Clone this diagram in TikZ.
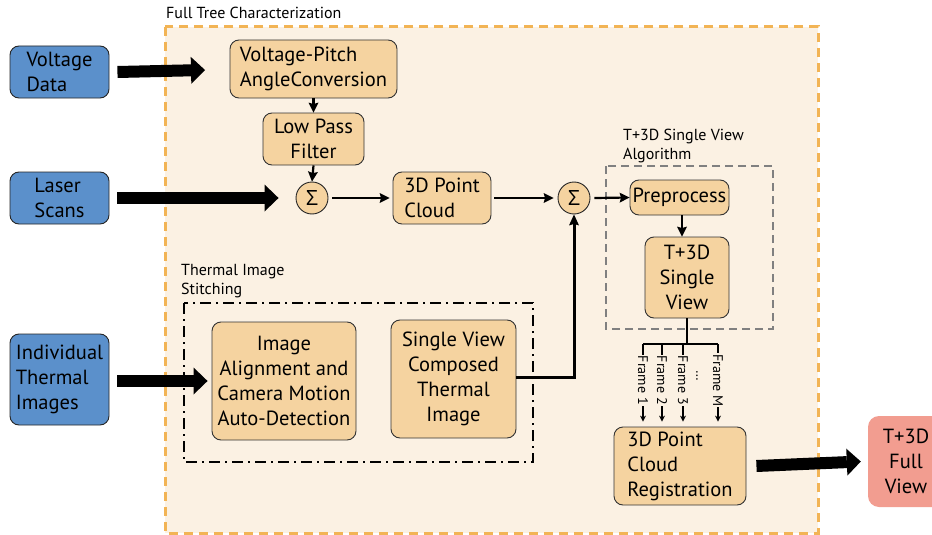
\documentclass[tikz,border=0pt]{standalone}
\usepackage{fontspec}
\setmainfont{PT Sans}
\newfontfamily\sigmafont{Open Sans}
\usetikzlibrary{arrows.meta,calc}
\definecolor{bgfill}{HTML}{FBF1E3}
\definecolor{boxfill}{HTML}{F5D3A0}
\definecolor{inblue}{HTML}{5B90CB}
\definecolor{outpink}{HTML}{F29D90}
\definecolor{dashorange}{HTML}{F2B455}
\tikzset{
  proc/.style={draw=black!80, line width=0.9pt, fill=boxfill, rounded corners=9pt,
    inner sep=0pt, font=\fontsize{20.5}{25}\selectfont, align=left},
  inbox/.style={draw=black!85, line width=0.9pt, fill=inblue, rounded corners=9pt,
    inner sep=0pt, font=\fontsize{20.5}{25}\selectfont, align=left,
    minimum width=99pt},
  sumnode/.style={circle, draw=black!85, line width=0.9pt, fill=boxfill,
    minimum size=32pt, inner sep=0pt, font=\sigmafont\fontsize{21}{22}\selectfont},
  bigarrow/.style={line width=12pt, -{Triangle[length=14pt,width=27pt,line width=0pt]}},
  thinarrow/.style={line width=2.2pt, -{Stealth[length=10pt,width=10pt,inset=1.5pt,line width=0pt]}},
  framearrow/.style={line width=1.1pt, -{Stealth[length=6pt,width=6pt,line width=0pt]}},
  smalllabel/.style={font=\fontsize{16}{19}\selectfont, align=left, inner sep=0pt, anchor=west},
  framelabel/.style={font=\fontsize{14}{16}\selectfont, rotate=-90, fill=bgfill, inner sep=1pt}
}
\begin{document}
\begin{tikzpicture}[x=1pt,y=-1pt]
\useasboundingbox (0,0) rectangle (932,535);
% outer container
\draw[dashorange, line width=3pt, dash pattern=on 9pt off 6pt, fill=bgfill] (165,27) rectangle (818,533);
\node[smalllabel] (title) at (166,13) {Full Tree Characterization};
% gray dashed group
\draw[black!50, line width=1.2pt, dash pattern=on 8pt off 5pt] (606,166) rectangle (773,329);
\node[smalllabel] (alglabel) at (623,146) {T+3D Single View\\Algorithm};
% dash-dot group
\draw[black, line width=1.8pt, dash pattern=on 11pt off 5pt on 2pt off 5pt] (184,303) rectangle (533,462);
\node[smalllabel] (stlabel) at (181,281) {Thermal Image\\Stitching};

% input boxes
\node[inbox, minimum height=52pt] (vd) at (59.5,72) {Voltage\\Data};
\node[inbox, minimum height=52pt] (ls) at (59.5,198) {Laser\\Scans};
\node[inbox, minimum height=91pt] (it) at (59.5,379.5) {Individual\\Thermal\\Images};

% processing boxes
\node[proc, minimum width=167pt, minimum height=58pt] (vpa) at (313.5,69) {Voltage-Pitch\\AngleConversion};
\node[proc, minimum width=101pt, minimum height=52pt, align=center] (lpf) at (313.5,139) {Low Pass\\Filter};
\node[sumnode] (s1) at (312,198) {Σ};
\node[proc, minimum width=98pt, minimum height=52pt] (pc) at (442,198) {3D Point\\Cloud};
\node[sumnode] (s2) at (574,198) {Σ};
\node[proc, minimum width=99pt, minimum height=35pt] (pre) at (679.5,197.5) {Preprocess};
\node[proc, minimum width=84pt, minimum height=81pt, align=center] (tsv) at (687,277.5) {T+3D\\Single\\View};
\node[proc, minimum width=132pt, minimum height=78pt] (reg) at (680,466) {3D Point\\Cloud\\Registration};
\node[proc, minimum width=144pt, minimum height=118pt, align=center] (ia) at (284,381) {Image\\Alignment and\\Camera Motion\\Auto-Detection};
\node[proc, minimum width=125pt, minimum height=118pt, align=center] (svc) at (453.5,379) {Single View\\Composed\\Thermal\\Image};
\node[fill=outpink, rounded corners=11pt, inner sep=0pt, minimum width=76pt, minimum height=91pt,
  font=\fontsize{20.5}{25}\selectfont, align=center] (fv) at (906,461.5) {T+3D\\Full\\View};

% big arrows
\draw[bigarrow] ([xshift=8pt]vd.east) -- (205,70);
\draw[bigarrow] ([xshift=8pt]ls.east) -- ([xshift=-17pt]s1.west);
\draw[bigarrow] ([xshift=8pt]it.east |- 0,381) -- ([xshift=-4pt]ia.west);
\draw[bigarrow] ([xshift=10pt]reg.east) -- ([xshift=-7pt]fv.west);

% thin arrows
\draw[thinarrow] (vpa.south) -- (lpf.north);
\draw[thinarrow] (lpf.south) -- (s1.north);
\draw[thinarrow] ([xshift=4pt]s1.east) -- ([xshift=-3pt]pc.west);
\draw[thinarrow] ([xshift=3pt]pc.east) -- ([xshift=-4pt]s2.west);
\draw[thinarrow] ([xshift=4pt]s2.east) -- (pre.west);
\draw[thinarrow] ([xshift=2.5pt]pre.south) -- ([xshift=2.5pt]pre.south |- tsv.north);
\draw[line width=3pt, -{Stealth[length=11pt,width=10pt,inset=1.5pt,line width=0pt]}] (svc.east |- 0,377) -| (s2.south);

% frame branches
\coordinate (br) at (tsv.south |- 0,344);
\draw[line width=1.1pt] (tsv.south) -- (br);
\draw[line width=1.1pt] (643,344) -- (718,344);
\coordinate (f1) at (643,344);
\coordinate (f2) at (662,344);
\coordinate (f3) at (683,344);
\coordinate (fm) at (718,344);
\draw[framearrow, shorten >=5pt] (f1) -- (f1 |- reg.north) node[framelabel, pos=0.44] {Frame 1};
\draw[framearrow, shorten >=5pt] (f2) -- (f2 |- reg.north) node[framelabel, pos=0.44] {Frame 2};
\draw[framearrow, shorten >=5pt] (f3) -- (f3 |- reg.north) node[framelabel, pos=0.44] {Frame 3};
\draw[framearrow, shorten >=5pt] (fm) -- (fm |- reg.north) node[framelabel, pos=0.44] {Frame M};
\node[framelabel, fill=none] (dots) at (697,376) {\dots};
\end{tikzpicture}
\end{document}
